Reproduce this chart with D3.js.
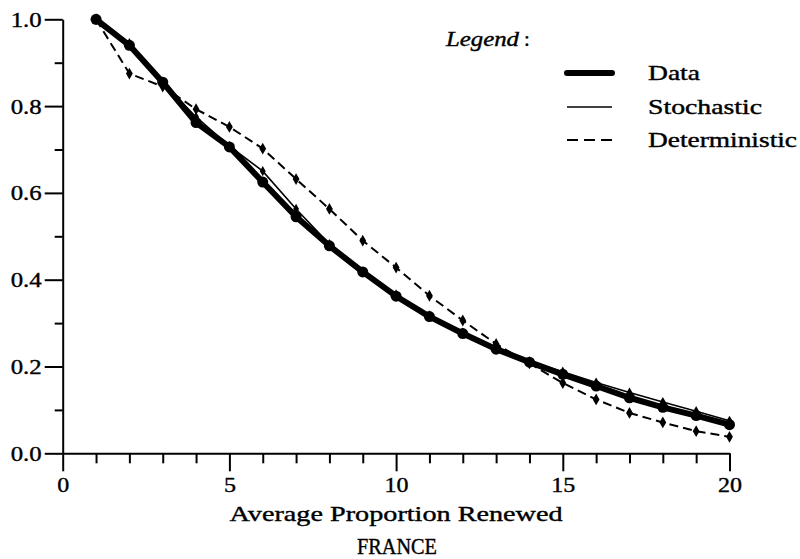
<!DOCTYPE html>
<html lang="en">
  <head>
    <meta charset="UTF-8" />
    <title>France renewal</title>
    <style>
      body { margin: 0; background: #fff; }
      svg text { stroke: #000; stroke-width: 0.4px; }
    </style>
  </head>
  <body>
    <div id="chart"></div>
    <script src="https://cdn.jsdelivr.net/npm/d3@7"></script>
    <script>
    // values, one per year 1..20
    var years = [1,2,3,4,5,6,7,8,9,10,11,12,13,14,15,16,17,18,19,20];
    var dataVals = [1.0,0.94,0.855,0.762,0.706,0.625,0.545,0.478,0.418,0.362,0.315,0.276,0.240,0.210,0.182,0.155,0.128,0.106,0.087,0.066];
    var stochVals = [1.0,0.945,0.855,0.775,0.708,0.650,0.563,0.482,0.418,0.366,0.318,0.278,0.243,0.212,0.188,0.163,0.140,0.118,0.097,0.075];
    var detVals = [1.0,0.875,0.845,0.793,0.752,0.702,0.632,0.563,0.490,0.428,0.363,0.306,0.252,0.207,0.162,0.124,0.093,0.071,0.051,0.038];
    var xMajor = [0,5,10,15,20];
    var yMajor = [0,0.2,0.4,0.6,0.8,1.0];
    var legendNames = ["Data","Stochastic","Deterministic"];

    var serif = "Times New Roman, Times, Liberation Serif, Nimbus Roman, FreeSerif, DejaVu Serif, serif";
    var width = 800, height = 559;
    var margin = {top: 19.3, right: 70.5, bottom: 105.7, left: 62.7};

    var svg = d3.select("#chart")
                .append("svg")
                .attr("width", width)
                .attr("height", height)
                .style("font-family", serif);

    var x = d3.scaleLinear().domain([0,20]).range([margin.left, width - margin.right]);
    var y = d3.scaleLinear().domain([0,1]).range([height - margin.bottom, margin.top]);

    // minor ticks first
    svg.append("g")
       .attr("transform", "translate(" + margin.left + ",0)")
       .call(d3.axisLeft(y).tickValues(d3.range(0.1,1,0.2)).tickSize(8).tickFormat(""))
       .call(function(g){ g.select(".domain").remove(); });
    svg.append("g")
       .attr("transform", "translate(0," + y(0) + ")")
       .call(d3.axisBottom(x).tickValues(d3.range(0,21).filter(function(d){ return d % 5 != 0; })).tickSize(10).tickFormat(""))
       .call(function(g){ g.select(".domain").remove(); });

    var yAxis = svg.append("g")
       .attr("transform", "translate(" + margin.left + ",0)")
       .call(d3.axisLeft(y).tickValues(yMajor).tickSize(18).tickSizeOuter(0).tickPadding(3).tickFormat(d3.format(".1f")));
    yAxis.attr("font-family", serif);
    yAxis.selectAll("text")
         .attr("fill", "#000")
         .style("font-size", "22px")
         .attr("textLength", 31)
         .attr("lengthAdjust", "spacingAndGlyphs");

    var xAxis = svg.append("g")
       .attr("transform", "translate(0," + y(0) + ")")
       .call(d3.axisBottom(x).tickValues(xMajor).tickSize(18).tickSizeOuter(0).tickPadding(5));
    xAxis.attr("font-family", serif);
    xAxis.selectAll("text")
         .attr("fill", "#000")
         .style("font-size", "22px")
         .attr("textLength", function(d){ return d < 10 ? 12 : 24; })
         .attr("lengthAdjust", "spacingAndGlyphs");

    svg.selectAll(".tick line, .domain").attr("stroke", "#000").attr("stroke-width", 2);

    var line = d3.line()
                 .x(function(d){ return x(d[0]); })
                 .y(function(d){ return y(d[1]); });

    function pairs(vals){ return years.map(function(yr, i){ return [yr, vals[i]]; }); }

    // deterministic (dashed)
    svg.append("path")
       .datum(pairs(detVals))
       .attr("d", line)
       .attr("fill", "none")
       .attr("stroke", "#000")
       .attr("stroke-width", 2)
       .attr("stroke-dasharray", "9,5");
    svg.selectAll(".detpt")
       .data(pairs(detVals))
       .enter()
       .append("path")
       .attr("class", "detpt")
       .attr("transform", function(d){ return "translate(" + x(d[0]) + "," + y(d[1]) + ")"; })
       .attr("d", d3.symbol().type(d3.symbolDiamond).size(40))
       .attr("fill", "#000");

    // data (thick)
    svg.append("path")
       .datum(pairs(dataVals))
       .attr("d", line)
       .attr("fill", "none")
       .attr("stroke", "#000")
       .attr("stroke-width", 6)
       .attr("stroke-linejoin", "round");
    svg.selectAll(".datapt")
       .data(pairs(dataVals))
       .enter()
       .append("circle")
       .attr("class", "datapt")
       .attr("cx", function(d){ return x(d[0]); })
       .attr("cy", function(d){ return y(d[1]); })
       .attr("r", 5.5)
       .attr("fill", "#000");

    // stochastic (thin)
    svg.append("path")
       .datum(pairs(stochVals))
       .attr("d", line)
       .attr("fill", "none")
       .attr("stroke", "#000")
       .attr("stroke-width", 1.6);
    svg.selectAll(".stpt")
       .data(pairs(stochVals))
       .enter()
       .append("path")
       .attr("class", "stpt")
       .attr("transform", function(d){ return "translate(" + x(d[0]) + "," + y(d[1]) + ")"; })
       .attr("d", d3.symbol().type(d3.symbolDiamond).size(30))
       .attr("fill", "#000");

    // axis titles
    svg.append("text")
       .attr("x", x(10))
       .attr("y", 521)
       .attr("text-anchor", "middle")
       .style("font-size", "22px")
       .attr("textLength", 333)
       .attr("lengthAdjust", "spacingAndGlyphs")
       .text("Average Proportion Renewed");
    svg.append("text")
       .attr("x", 397)
       .attr("y", 554)
       .attr("text-anchor", "middle")
       .style("font-size", "23px")
       .attr("textLength", 80)
       .attr("lengthAdjust", "spacingAndGlyphs")
       .text("FRANCE");

    // legend
    var legend = svg.append("g");
    var lt = legend.append("text")
          .attr("x", 446)
          .attr("y", 46)
          .style("font-size", "21px");
    lt.append("tspan").style("font-style", "italic").attr("textLength", 73).attr("lengthAdjust", "spacingAndGlyphs").text("Legend");
    lt.append("tspan").attr("dx", 5).text(":");

    var legY = [73, 107, 140];
    var legWidths = [52, 114, 149];
    legendNames.forEach(function(name, i){
      var l = legend.append("line")
            .attr("x1", 567).attr("x2", 612)
            .attr("y1", legY[i]).attr("y2", legY[i])
            .attr("stroke", "#000");
      if (i == 0) l.attr("stroke-width", 6).attr("stroke-linecap", "round");
      if (i == 1) l.attr("stroke-width", 1.6);
      if (i == 2) l.attr("stroke-width", 2).attr("stroke-dasharray", "11,6");
      legend.append("text")
            .attr("x", 648)
            .attr("y", legY[i] + 7)
            .style("font-size", "21px")
            .attr("textLength", legWidths[i])
            .attr("lengthAdjust", "spacingAndGlyphs")
            .text(name);
    });
    </script>
  </body>
</html>
